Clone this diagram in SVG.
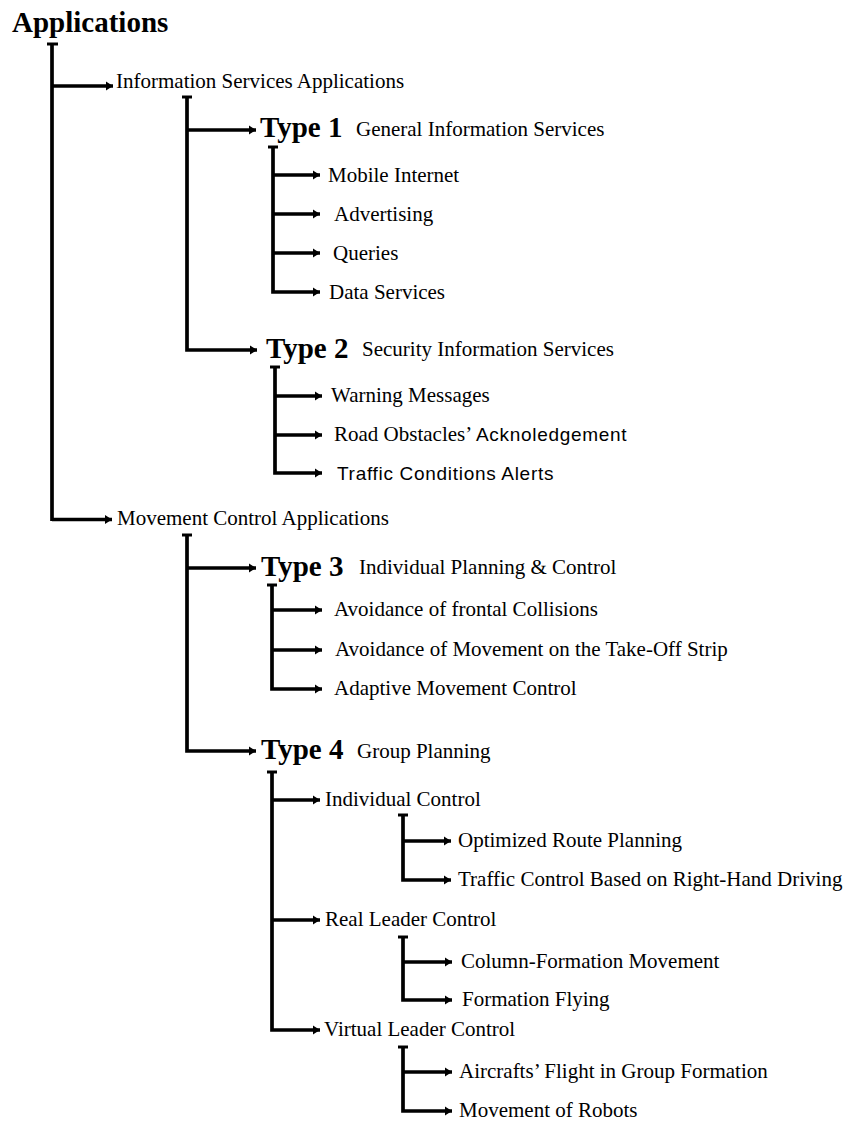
<svg xmlns="http://www.w3.org/2000/svg" width="852" height="1124" viewBox="0 0 852 1124">
<defs>
<marker id="ah" markerUnits="userSpaceOnUse" markerWidth="8" markerHeight="10" refX="7" refY="5" orient="auto"><path d="M0,0.5 L7,5 L0,9.5 z" fill="#000"/></marker>
<style>
.c{fill:none;stroke:#000;stroke-width:3.7;stroke-linejoin:miter;stroke-linecap:butt}
.a{marker-end:url(#ah)}
.cap{fill:none;stroke:#000;stroke-width:3}
.t{font-family:"Liberation Serif","Times New Roman",serif;font-size:21px;fill:#000}
.b{font-family:"Liberation Serif","Times New Roman",serif;font-weight:bold;font-size:29px;fill:#000}
.s{font-family:"Liberation Sans",Arial,sans-serif;font-size:19px;letter-spacing:0.7px;fill:#000}
</style>
</defs>
<rect width="852" height="1124" fill="#fff"/>
<g id="connectors">
<path class="cap" d="M47 44 H58"/>
<path class="c" d="M52 44 V521"/>
<path class="c a" d="M52 86 H113"/>
<path class="c a" d="M52 519.5 H112"/>
<path class="cap" d="M182 97 H192"/>
<path class="c a" d="M187 97 V350 H257"/>
<path class="c a" d="M187 130 H256"/>
<path class="cap" d="M268 147 H278"/>
<path class="c a" d="M273 147 V292 H320"/>
<path class="c a" d="M273 175 H320"/>
<path class="c a" d="M273 214 H320"/>
<path class="c a" d="M273 253 H320"/>
<path class="cap" d="M270 367 H280"/>
<path class="c a" d="M275 367 V473 H322"/>
<path class="c a" d="M275 396 H322"/>
<path class="c a" d="M275 435 H322"/>
<path class="cap" d="M182 535 H192"/>
<path class="c a" d="M187 535 V751 H256"/>
<path class="c a" d="M187 568 H256"/>
<path class="cap" d="M267 585 H277"/>
<path class="c a" d="M272 585 V689 H322"/>
<path class="c a" d="M272 610 H322"/>
<path class="c a" d="M272 650 H322"/>
<path class="cap" d="M267 772 H277"/>
<path class="c a" d="M272 772 V1030 H320"/>
<path class="c a" d="M272 800 H320"/>
<path class="c a" d="M272 920 H320"/>
<path class="cap" d="M398 815 H408"/>
<path class="c a" d="M403 815 V880 H451"/>
<path class="c a" d="M403 841 H451"/>
<path class="cap" d="M398 937 H408"/>
<path class="c a" d="M403 937 V1000 H452"/>
<path class="c a" d="M403 962 H452"/>
<path class="cap" d="M398 1047 H408"/>
<path class="c a" d="M403 1047 V1111 H452"/>
<path class="c a" d="M403 1072 H452"/>
</g>
<g id="n-applications"><text class="b" x="12" y="32">Applications</text></g>
<g id="n-info"><text class="t" x="116" y="88">Information Services Applications</text></g>
<g id="n-type1"><text class="b" x="260" y="137">Type 1</text><text class="t" x="356" y="136">General Information Services</text></g>
<g id="n-mobile"><text class="t" x="328" y="182">Mobile Internet</text></g>
<g id="n-advertising"><text class="t" x="334" y="221">Advertising</text></g>
<g id="n-queries"><text class="t" x="333" y="260">Queries</text></g>
<g id="n-data"><text class="t" x="329" y="299">Data Services</text></g>
<g id="n-type2"><text class="b" x="266" y="358">Type 2</text><text class="t" x="362" y="356">Security Information Services</text></g>
<g id="n-warning"><text class="t" x="331" y="402">Warning Messages</text></g>
<g id="n-road"><text class="t" x="334" y="441">Road Obstacles’ <tspan class="s">Acknoledgement</tspan></text></g>
<g id="n-traffic-alerts"><text class="s" x="337" y="480">Traffic Conditions Alerts</text></g>
<g id="n-movement"><text class="t" x="117" y="525">Movement Control Applications</text></g>
<g id="n-type3"><text class="b" x="261" y="576">Type 3</text><text class="t" x="359" y="574">Individual Planning &amp; Control</text></g>
<g id="n-frontal"><text class="t" x="334" y="616">Avoidance of frontal Collisions</text></g>
<g id="n-takeoff"><text class="t" x="335" y="656">Avoidance of Movement on the Take-Off Strip</text></g>
<g id="n-adaptive"><text class="t" x="334" y="695">Adaptive Movement Control</text></g>
<g id="n-type4"><text class="b" x="261" y="759">Type 4</text><text class="t" x="357" y="758">Group Planning</text></g>
<g id="n-indiv"><text class="t" x="325" y="806">Individual Control</text></g>
<g id="n-route"><text class="t" x="458" y="847">Optimized Route Planning</text></g>
<g id="n-righthand"><text class="t" x="458" y="886">Traffic Control Based on Right-Hand Driving</text></g>
<g id="n-real"><text class="t" x="325" y="926">Real Leader Control</text></g>
<g id="n-column"><text class="t" x="461" y="968">Column-Formation Movement</text></g>
<g id="n-flying"><text class="t" x="462" y="1006">Formation Flying</text></g>
<g id="n-virtual"><text class="t" x="324" y="1036">Virtual Leader Control</text></g>
<g id="n-aircraft"><text class="t" x="459" y="1078">Aircrafts’ Flight in Group Formation</text></g>
<g id="n-robots"><text class="t" x="459" y="1117">Movement of Robots</text></g>
</svg>
